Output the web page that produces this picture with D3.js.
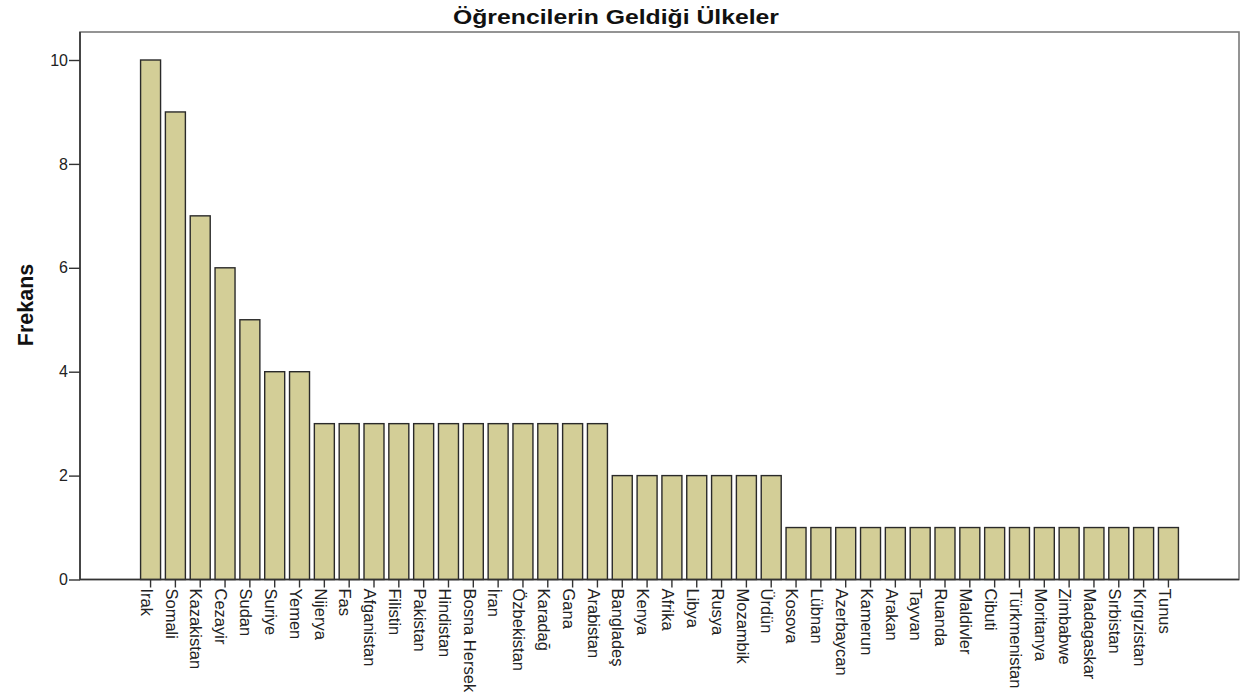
<!DOCTYPE html>
<html>
<head>
<meta charset="utf-8">
<script src="https://cdn.jsdelivr.net/npm/d3@7"></script>
<style>
  body { margin: 0; background: #fff; }
  text { font-family: "Liberation Sans", Arial, sans-serif; }
</style>
</head>
<body>
<svg id="chart" width="1253" height="699"></svg>
<script>
const countries = ["Irak","Somali","Kazakistan","Cezayir","Sudan","Suriye","Yemen","Nijerya","Fas","Afganistan","Filistin","Pakistan","Hindistan","Bosna Hersek","İran","Özbekistan","Karadağ","Gana","Arabistan","Bangladeş","Kenya","Afrika","Libya","Rusya","Mozambik","Ürdün","Kosova","Lübnan","Azerbaycan","Kamerun","Arakan","Tayvan","Ruanda","Maldivler","Cibuti","Türkmenistan","Moritanya","Zimbabwe","Madagaskar","Sırbistan","Kırgızistan","Tunus"];
const frequencies = [10,9,7,6,5,4,4,3,3,3,3,3,3,3,3,3,3,3,3,2,2,2,2,2,2,2,1,1,1,1,1,1,1,1,1,1,1,1,1,1,1,1];
const yTicks = [0,2,4,6,8,10];
const title = "Öğrencilerin Geldiği Ülkeler";
const yLabel = "Frekans";

const svg = d3.select("#chart");
const mLeft = 80, mRight = 1239, mTop = 32, mBottom = 579.5;

const x = d3.scaleBand().domain(countries).range([mLeft, mRight]).paddingInner(0.195).paddingOuter(2.44);
const y = d3.scaleLinear().domain([0, 10]).range([mBottom, 60]);

// frame
svg.append("rect").attr("x", mLeft).attr("y", mTop).attr("width", mRight - mLeft).attr("height", mBottom - mTop)
  .attr("fill", "none").attr("stroke", "#7a7a7a").attr("stroke-width", 1.6);

// bars
svg.append("g").selectAll("rect").data(countries).join("rect")
  .attr("x", d => x(d)).attr("width", x.bandwidth())
  .attr("y", (d, i) => y(frequencies[i]))
  .attr("height", (d, i) => y(0) - y(frequencies[i]))
  .attr("fill", "#d3ce97").attr("stroke", "#2a2a2a").attr("stroke-width", 1.4);

// y axis
const yAxis = svg.append("g").attr("transform", `translate(${mLeft},0)`)
  .call(d3.axisLeft(y).tickValues(yTicks).tickSize(11).tickPadding(1).tickFormat(d3.format("d")));
yAxis.select(".domain").attr("stroke", "#333").attr("stroke-width", 1.6).attr("d", `M0,${mTop}V${mBottom}`);
yAxis.selectAll(".tick line").attr("stroke", "#333").attr("stroke-width", 1.4);
yAxis.selectAll(".tick text").attr("font-size", 16).attr("fill", "#222")
  .style("font-family", "'Liberation Sans', Arial, sans-serif");

// x axis
const xAxis = svg.append("g").attr("transform", `translate(0,${mBottom})`)
  .call(d3.axisBottom(x).tickSize(8).tickPadding(4));
xAxis.select(".domain").attr("stroke", "#333").attr("stroke-width", 1.6).attr("d", `M${mLeft},0H${mRight}`);
xAxis.selectAll(".tick line").attr("stroke", "#333").attr("stroke-width", 1.4);
xAxis.selectAll(".tick text")
  .attr("font-size", 16.5).attr("fill", "#222")
  .style("font-family", "'Liberation Sans', Arial, sans-serif")
  .attr("text-anchor", "start")
  .attr("transform", "rotate(90)")
  .attr("x", 9).attr("y", 4).attr("dy", "0.35em");

// title
svg.append("text").attr("x", 616).attr("y", 23.5).attr("text-anchor", "middle")
  .attr("font-size", 20).attr("font-weight", "bold").attr("fill", "#111")
  .attr("textLength", 326).attr("lengthAdjust", "spacingAndGlyphs").text(title);

// y label
svg.append("text").attr("transform", "translate(33,305) rotate(-90)").attr("text-anchor", "middle")
  .attr("font-size", 21.5).attr("font-weight", "bold").attr("fill", "#111").text(yLabel);
</script>
</body>
</html>
